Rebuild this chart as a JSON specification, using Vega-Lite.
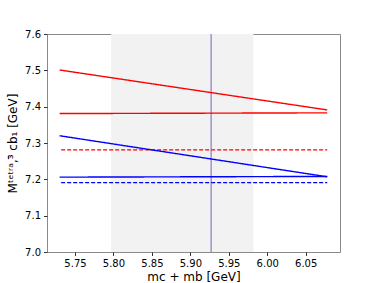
{
  "$schema": "https://vega.github.io/schema/vega-lite/v6.json",
  "autosize": {"type": "none"},
  "padding": {"left": 47, "top": 34, "right": 38, "bottom": 31},
  "width": 293,
  "height": 218,
  "background": "white",
  "config": {
    "font": "DejaVu Sans",
    "view": {"stroke": "#8a8a8a", "strokeWidth": 1},
    "axis": {
      "domain": false,
      "grid": false,
      "tickColor": "#000",
      "tickSize": 3.5,
      "tickWidth": 0.8,
      "labelColor": "#000",
      "labelFontSize": 10,
      "labelFont": "DejaVu Sans",
      "titleFont": "DejaVu Sans",
      "titleFontWeight": "normal",
      "titleFontSize": 12,
      "titleColor": "#000",
      "labelPadding": 3
    }
  },
  "datasets": {
    "lines": [
      {"x": 5.73, "y": 7.501, "id": "r1", "grp": "red", "kind": "solid"},
      {"x": 6.078, "y": 7.391, "id": "r1", "grp": "red", "kind": "solid"},
      {"x": 5.73, "y": 7.381, "id": "r2", "grp": "red", "kind": "solid"},
      {"x": 6.078, "y": 7.383, "id": "r2", "grp": "red", "kind": "solid"},
      {"x": 5.732, "y": 7.281, "id": "r3", "grp": "red", "kind": "dashed"},
      {"x": 6.078, "y": 7.281, "id": "r3", "grp": "red", "kind": "dashed"},
      {"x": 5.73, "y": 7.320, "id": "b1", "grp": "blue", "kind": "solid"},
      {"x": 6.078, "y": 7.207, "id": "b1", "grp": "blue", "kind": "solid"},
      {"x": 5.73, "y": 7.206, "id": "b2", "grp": "blue", "kind": "solid"},
      {"x": 6.078, "y": 7.208, "id": "b2", "grp": "blue", "kind": "solid"},
      {"x": 5.732, "y": 7.191, "id": "b3", "grp": "blue", "kind": "dashed"},
      {"x": 6.078, "y": 7.191, "id": "b3", "grp": "blue", "kind": "dashed"}
    ],
    "band": [{"x0": 5.797, "x1": 5.982}],
    "vline": [{"x": 5.927}]
  },
  "layer": [
    {
      "data": {"name": "band"},
      "mark": {"type": "rect", "color": "#f2f2f2"},
      "encoding": {
        "x": {"field": "x0", "type": "quantitative"},
        "x2": {"field": "x1"}
      }
    },
    {
      "data": {"name": "vline"},
      "mark": {"type": "rule", "color": "#7052b0", "strokeWidth": 0.9},
      "encoding": {
        "x": {"field": "x", "type": "quantitative"}
      }
    },
    {
      "data": {"name": "lines"},
      "mark": {"type": "line", "strokeWidth": 1.4},
      "encoding": {
        "x": {
          "field": "x", "type": "quantitative",
          "scale": {"domain": [5.7136, 6.0946], "nice": false, "zero": false},
          "axis": {"values": [5.75, 5.8, 5.85, 5.9, 5.95, 6.0, 6.05], "format": ".2f", "title": "mc + mb [GeV]", "titlePadding": 3}
        },
        "y": {
          "field": "y", "type": "quantitative",
          "scale": {"domain": [7.0, 7.6], "nice": false, "zero": false},
          "axis": {"values": [7.0, 7.1, 7.2, 7.3, 7.4, 7.5, 7.6], "format": ".1f", "title": "Mᵗᵉᵗʳᵃ,³̄ cb₁ [GeV]", "titlePadding": 5}
        },
        "detail": {"field": "id"},
        "color": {"field": "grp", "type": "nominal", "scale": {"domain": ["red", "blue"], "range": ["#ff0000", "#0000ff"]}, "legend": null},
        "strokeDash": {"field": "kind", "type": "nominal", "scale": {"domain": ["solid", "dashed"], "range": [[1, 0], [4, 2]]}, "legend": null}
      }
    }
  ]
}
